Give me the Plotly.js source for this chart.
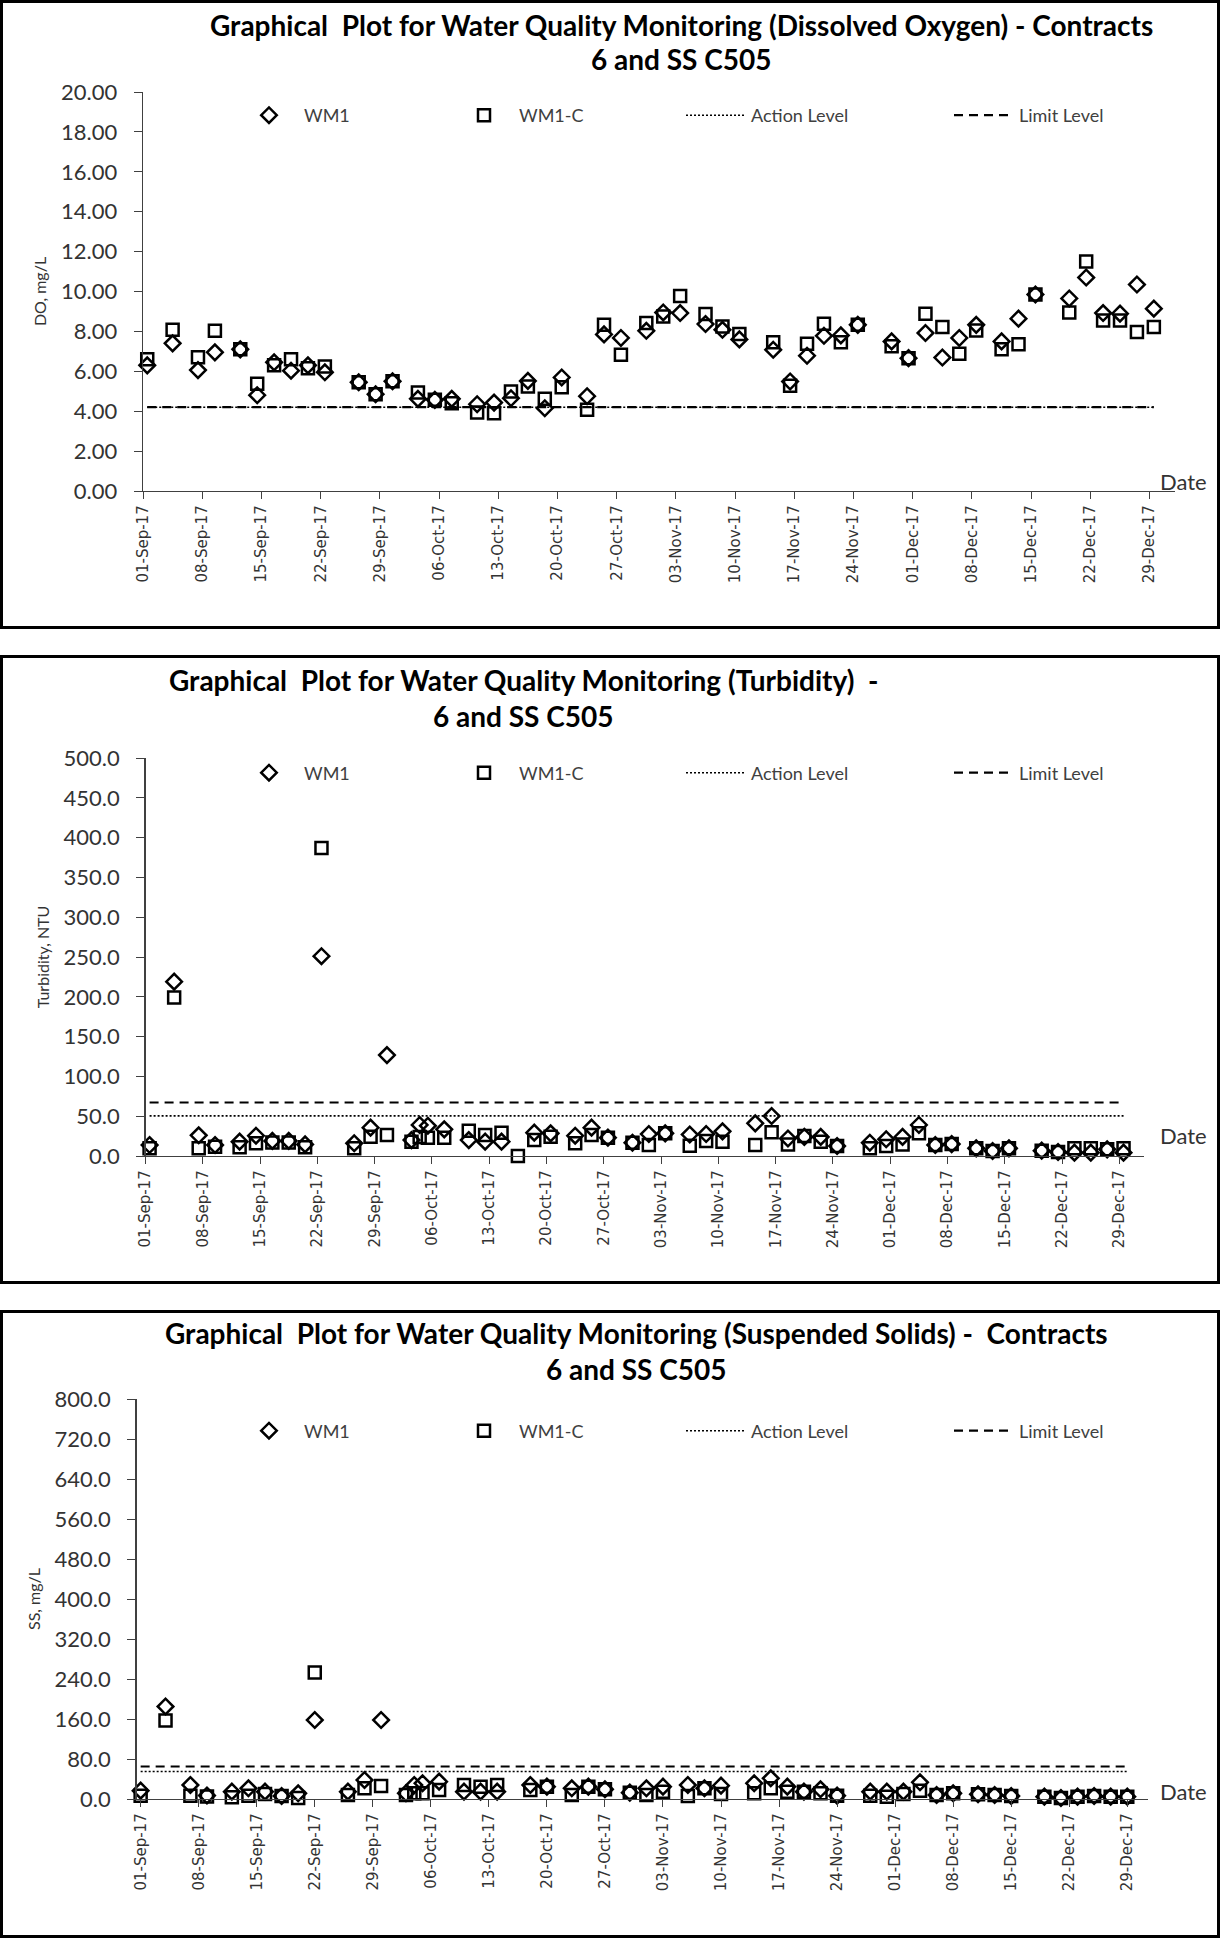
<!DOCTYPE html>
<html><head><meta charset="utf-8">
<script src="https://cdn.plot.ly/plotly-3.0.1.min.js"></script>
<style>html,body{margin:0;padding:0;background:#fff}#chart{width:1220px;height:1939px}</style>
</head><body><div id="chart"></div>
<script>
// ---------------- DATA ----------------
const sampleDates = [
 '2017-09-01','2017-09-04','2017-09-07','2017-09-09','2017-09-12','2017-09-14','2017-09-16','2017-09-18','2017-09-20','2017-09-22','2017-09-26','2017-09-28','2017-09-30',
 '2017-10-03','2017-10-04','2017-10-05','2017-10-07','2017-10-10','2017-10-12','2017-10-14','2017-10-16','2017-10-18','2017-10-20','2017-10-23','2017-10-25','2017-10-27','2017-10-30',
 '2017-11-01','2017-11-03','2017-11-06','2017-11-08','2017-11-10','2017-11-14','2017-11-16','2017-11-18','2017-11-20','2017-11-22','2017-11-24','2017-11-28','2017-11-30',
 '2017-12-02','2017-12-04','2017-12-06','2017-12-08','2017-12-11','2017-12-13','2017-12-15','2017-12-19','2017-12-21','2017-12-23','2017-12-25','2017-12-27','2017-12-29'
];
// Dissolved oxygen, mg/L
const doWM1 = [
 6.30,7.40,6.06,6.95,7.10,4.80,6.45,6.03,6.30,5.95,5.45,4.85,5.50,
 4.62,null,4.57,4.62,4.35,4.43,4.65,5.52,4.15,5.69,4.75,7.85,7.67,8.03,
 8.95,8.92,8.37,8.08,7.60,7.08,5.49,6.78,7.78,7.80,8.33,7.50,6.66,
 7.92,6.69,7.67,8.33,7.50,8.64,9.85,9.65,10.70,8.92,8.89,10.35,9.14
];
const doWM1C = [
 6.60,8.08,6.70,8.03,7.10,5.37,6.30,6.61,6.15,6.24,5.45,4.85,5.50,
 4.94,null,4.57,4.40,3.93,3.90,4.99,5.24,4.62,5.20,4.07,8.33,6.83,8.42,
 8.75,9.78,8.87,8.25,7.87,7.45,5.27,7.38,8.38,7.45,8.33,7.25,6.66,
 8.89,8.22,6.88,8.05,7.11,7.36,9.85,8.95,11.50,8.55,8.55,7.97,8.22
];
const doAction = 4.2, doLimit = 4.2;
// Turbidity, NTU
const turbWM1 = [
 13.8,219,26,13.8,18,25.5,19,19,14.6,251,16,35.6,126.8,
 20,39,38,33.5,20,18,18,null,29.3,28.5,25.5,35.6,23,16.7,
 27.6,28.5,27,27.6,31,41,50.2,22,24,24,12.5,16.7,21,
 24,39,13.8,15,9.6,6.3,9.6,6.7,5,4.2,4.2,8.4,4.2
];
const turbWM1C = [
 9.6,199,9.6,11.7,11,16,17,17,11,387,9.6,24.3,26.4,
 18,24,23,23,31.8,26.4,29.3,0,20,24.3,16,26.4,23,16.7,
 13.8,28.5,13,19,18,13.8,29.7,14.6,25,18,12.5,9.6,12.5,
 14.6,28.5,13.8,15,9.6,6.3,9.6,6.7,5,9.6,9.6,8.4,9.6
];
const turbAction = 50.4, turbLimit = 67.2;
// Suspended solids, mg/L
const ssWM1 = [
 16.7,185,28,7,14.7,21.4,14.7,6,11.4,158,14.7,38,158,
 11.4,28,31.4,34.7,14.7,14.7,14.7,null,28,24.7,21.4,24.7,19.4,12.7,
 21.4,24.7,28,21.4,26.7,31.4,41.4,24.7,14.7,19.4,6.7,14.7,14.7,
 14.7,33.4,8,11.4,9.4,8,6,4.7,2,4.7,6,4.7,4.7
];
const ssWM1C = [
 6.7,157,6.7,5,3.3,6.7,10,6,2,253,8,21.4,26,
 8,11.4,11.4,18,28,24.7,28,null,18,24.7,8,24.7,19.4,12.7,
 8,14.7,6,21.4,10,11.4,21.4,14.7,14.7,11.4,6.7,6.7,4.7,
 10,16.7,8,11.4,9.4,8,6,4.7,2,4.7,6,4.7,4.7
];
const ssAction = 55, ssLimit = 65;

const seriesNames = ['WM1','WM1-C','Action Level','Limit Level'];
const chartTitles = [
 ['Graphical  Plot for Water Quality Monitoring (Dissolved Oxygen) - Contracts','6 and SS C505'],
 ['Graphical  Plot for Water Quality Monitoring (Turbidity)  -','6 and SS C505'],
 ['Graphical  Plot for Water Quality Monitoring (Suspended Solids) -  Contracts','6 and SS C505']
];
const yTitles = ['DO, mg/L','Turbidity, NTU','SS, mg/L'];

// ---------------- LAYOUT HELPERS ----------------
const W = 1220, H = 1939;
const fx = p => p / W, fy = p => 1 - p / H;
const AXC = '#404040';
const DAY = 86400000;

const charts = [
  {wm1: doWM1, wm1c: doWM1C, act: doAction, lim: doLimit,
   xd:[143,1175], yd:[92,491], xr:['2017-09-01','2018-01-01'], period:true,
   yr:[0,20], dtick:2, fmt:'.2f', title:chartTitles[0], titleX:681, titleY:[25,59],
   legY:115.5, dateY:481, yt:yTitles[0]},
  {wm1: turbWM1, wm1c: turbWM1C, act: turbAction, lim: turbLimit,
   xd:[145.5,1144], yd:[758,1156], xr:['2017-09-01','2018-01-01'], period:true,
   yr:[0,500], dtick:50, fmt:'.1f', title:chartTitles[1], titleX:523, titleY:[680,716],
   legY:773, dateY:1135, yt:yTitles[1]},
  {wm1: ssWM1, wm1c: ssWM1C, act: ssAction, lim: ssLimit,
   xd:[136.5,1148], yd:[1399,1799], xr:['2017-08-31 12:00','2017-12-31 12:00'], period:false,
   yr:[0,800], dtick:80, fmt:'.1f', title:chartTitles[2], titleX:637, titleY:[1333,1369],
   legY:1431, dateY:1791, yt:yTitles[2]}
];

const legendTextX = [304, 519, 751, 1019];
const data = [];
const layout = {
  width: W, height: H, margin:{l:0,r:0,t:0,b:0},
  paper_bgcolor:'#fff', plot_bgcolor:'#fff', hovermode:false, showlegend:true,
  font:{family:'Lato, sans-serif', color:'#333'},
  annotations:[], shapes:[]
};

// panel borders
[[1.5,627.5],[656.5,1282.5],[1311.5,1936.5]].forEach(b => {
  layout.shapes.push({type:'rect', xref:'paper', yref:'paper', x0:fx(1.5), x1:fx(1218.5), y0:fy(b[1]), y1:fy(b[0]),
    line:{color:'#000', width:3}, fillcolor:'rgba(0,0,0,0)'});
});

charts.forEach((c, i) => {
  const xa = 'x' + (i ? i+1 : ''), ya = 'y' + (i ? i+1 : '');
  const xk = 'xaxis' + (i ? i+1 : ''), yk = 'yaxis' + (i ? i+1 : '');
  layout[xk] = {
    domain:[fx(c.xd[0]), fx(c.xd[1])], anchor: ya, type:'date', range:c.xr,
    tickmode:'linear', tick0:'2017-09-01', dtick:7*DAY, tickformat:'%d-%b-%y', tickangle:-90,
    ticks:'outside', ticklen:7, tickcolor:AXC, showline:true, linecolor:AXC, linewidth:1.3,
    showgrid:false, zeroline:false, fixedrange:true,
    tickfont:{family:'DejaVu Sans', size:15, color:'#333'}
  };
  layout[yk] = {
    domain:[fy(c.yd[1]), fy(c.yd[0])], anchor: xa, range:c.yr, dtick:c.dtick, tick0:0, tickformat:c.fmt,
    ticks:'outside', ticklen:8, tickcolor:AXC, showline:true, linecolor:AXC, linewidth:1.3,
    showgrid:false, zeroline:false, fixedrange:true, ticklabelstandoff:12,
    tickfont:{family:'Lato', size:22, color:'#333'},
    title:{text:c.yt, font:{family:'Lato', size:16, color:'#333'}, standoff:10}
  };
  const per = c.period ? {xperiod:DAY, xperiodalignment:'middle'} : {};
  const levelAct = sampleDates.map(() => c.act);
  const levelLim = sampleDates.map(() => c.lim);
  const traces = [
    Object.assign({type:'scatter', mode:'lines', name:seriesNames[2], x:sampleDates, y:levelAct, xaxis:xa, yaxis:ya,
      line:{color:'#000', width:1.6, dash:'2px,2px'}}, per),
    Object.assign({type:'scatter', mode:'lines', name:seriesNames[3], x:sampleDates, y:levelLim, xaxis:xa, yaxis:ya,
      line:{color:'#000', width:2.2, dash:'9px,6px'}}, per),
    Object.assign({type:'scatter', mode:'markers', name:seriesNames[0], x:sampleDates, y:c.wm1, xaxis:xa, yaxis:ya, cliponaxis:false,
      marker:{symbol:'diamond-open', size:12, color:'#000', line:{width:2.5, color:'#000'}}}, per),
    Object.assign({type:'scatter', mode:'markers', name:seriesNames[1], x:sampleDates, y:c.wm1c, xaxis:xa, yaxis:ya, cliponaxis:false,
      marker:{symbol:'square-open', size:12, color:'#000', line:{width:2.5, color:'#000'}}}, per)
  ];
  const legendIdxForTrace = [2,3,0,1];
  traces.forEach((t, k) => {
    const li = legendIdxForTrace[k];
    const lname = 'legend' + (i*4 + li === 0 ? '' : (i*4 + li + 1));
    t.legend = lname;
    layout[lname] = {
      x: fx(legendTextX[li] - 70), y: fy(c.legY), xanchor:'left', yanchor:'middle', orientation:'h',
      bgcolor:'rgba(0,0,0,0)', borderwidth:0, itemwidth:60,
      font:{family:'Lato', size:18, color:'#404040'}
    };
    data.push(t);
  });
  // titles
  c.title.forEach((line, k) => {
    layout.annotations.push({xref:'paper', yref:'paper', x:fx(c.titleX), y:fy(c.titleY[k]), xanchor:'center', yanchor:'middle',
      text:'<b>' + line + '</b>', showarrow:false, font:{family:'Lato', size:28, color:'#000'}});
  });
  layout.annotations.push({xref:'paper', yref:'paper', x:fx(1183), y:fy(c.dateY), xanchor:'center', yanchor:'middle',
    text:'Date', showarrow:false, font:{family:'Lato', size:22, color:'#333'}});
});

Plotly.newPlot('chart', data, layout, {displayModeBar:false, staticPlot:true});
</script></body></html>
